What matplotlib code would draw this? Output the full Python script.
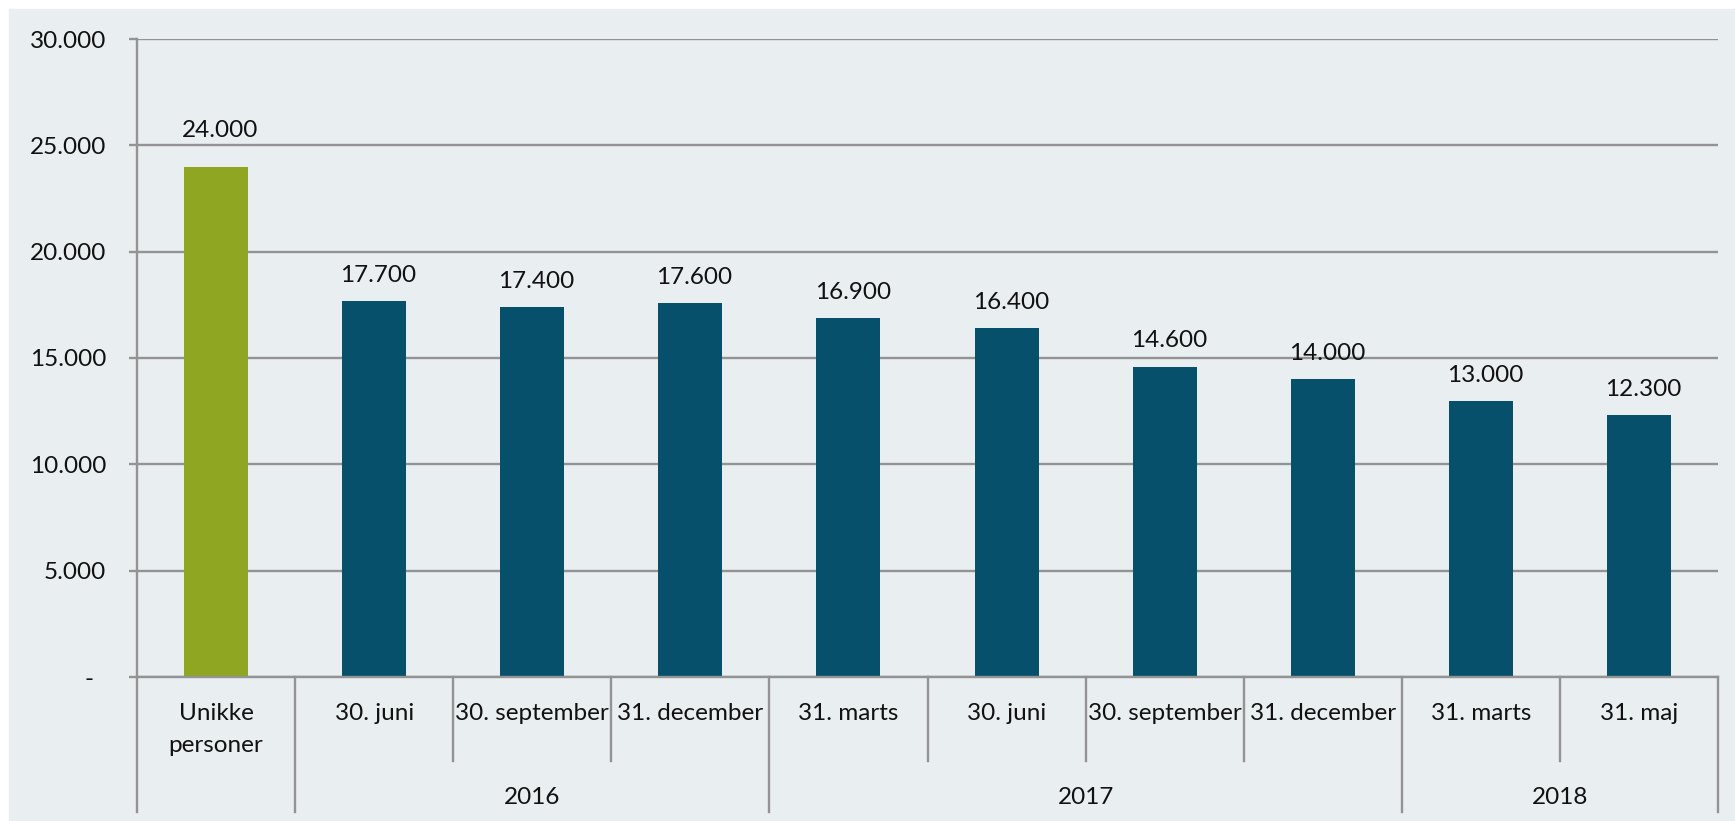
import numpy as np
import matplotlib; matplotlib.use('Agg')
import matplotlib.pyplot as plt
from matplotlib.patches import Rectangle
from matplotlib.transforms import blended_transform_factory, ScaledTranslation

categories=["Unikke\npersoner","30. juni","30. september","31. december","31. marts",
            "30. juni","30. september","31. december","31. marts","31. maj"]
values=[24000,17700,17400,17600,16900,16400,14600,14000,13000,12300]
years=["","2016","2017","2018"]
year_spans=[1,3,4,2]
yticks=[0,5000,10000,15000,20000,25000,30000]

BG='#E9EEF1'; GREEN='#8FA623'; BLUE='#07506C'; GRID='#939393'; INK='#111111'
plt.rcParams['font.family']=['Lato','DejaVu Sans']
FS=17.5

W,H=1735,821
fig=plt.figure(figsize=(W/100,H/100),dpi=100)
fig.patch.set_facecolor('white')
fig.patches.append(Rectangle((9/W,0),1,(H-9)/H,transform=fig.transFigure,color=BG,zorder=-10))

# axes box in pixels: x 137..1718, y(top) 39..677
L,R,T,B=137,1718,39,677
ax=fig.add_axes([L/W,(H-B)/H,(R-L)/W,(B-T)/H])
ax.set_facecolor('none')
x=np.arange(len(values))
cols=[GREEN]+[BLUE]*(len(values)-1)
ax.bar(x,values,width=0.405,color=cols,zorder=3)
ax.set_xlim(-0.5,len(values)-0.5); ax.set_ylim(0,30000)

for xi,v in zip(x,values):
    dy=13.7+(7.5 if xi==0 else 0)   # first label sits a bit higher in the original
    ax.annotate(f'{v:,}'.replace(',','.'),xy=(xi,v),xytext=(3,dy),textcoords='offset points',
                ha='center',va='baseline',fontsize=FS,color=INK)

# y axis
ax.set_yticks(yticks)
ax.set_yticklabels(['-']+[f'{t:,}'.replace(',','.') for t in yticks[1:]],fontsize=FS,color=INK)
ax.grid(axis='y',color=GRID,lw=1.7,zorder=1)
ax.tick_params(axis='y',length=5.8,width=1.7,color=GRID,pad=16.5)
lbl=ax.get_yticklabels()[0]
lbl.set_transform(lbl.get_transform()+ScaledTranslation(-0.13,0,fig.dpi_scale_trans))
for s in ('top','right'): ax.spines[s].set_visible(False)
ax.spines['left'].set_color(GRID); ax.spines['left'].set_linewidth(1.7)
ax.spines['bottom'].set_visible(False)
ax.set_xticks([])

# multi-level category axis drawn below
tr=blended_transform_factory(ax.transData,ax.transAxes)
fy=lambda px:(B-px)/(B-T)
ax.plot([-0.5,len(values)-0.5],[0,0],transform=tr,color=GRID,lw=1.7,clip_on=False,zorder=4)
bounds=np.cumsum([0]+year_spans)-0.5
for b in np.arange(len(values)+1)-0.5:
    end=812 if b in bounds else 761
    ax.plot([b,b],[0,fy(end)],transform=tr,color=GRID,lw=1.7,clip_on=False)
for xi,c in zip(x,categories):
    for k,ln in enumerate(c.split('\n')):
        ax.text(xi,fy(720+32*k),ln,transform=tr,ha='center',va='baseline',fontsize=FS,color=INK)
for yr,a,b in zip(years,bounds[:-1],bounds[1:]):
    if yr: ax.text((a+b)/2,fy(804),yr,transform=tr,ha='center',va='baseline',fontsize=FS,color=INK)

fig.savefig('out.png',dpi=100)
